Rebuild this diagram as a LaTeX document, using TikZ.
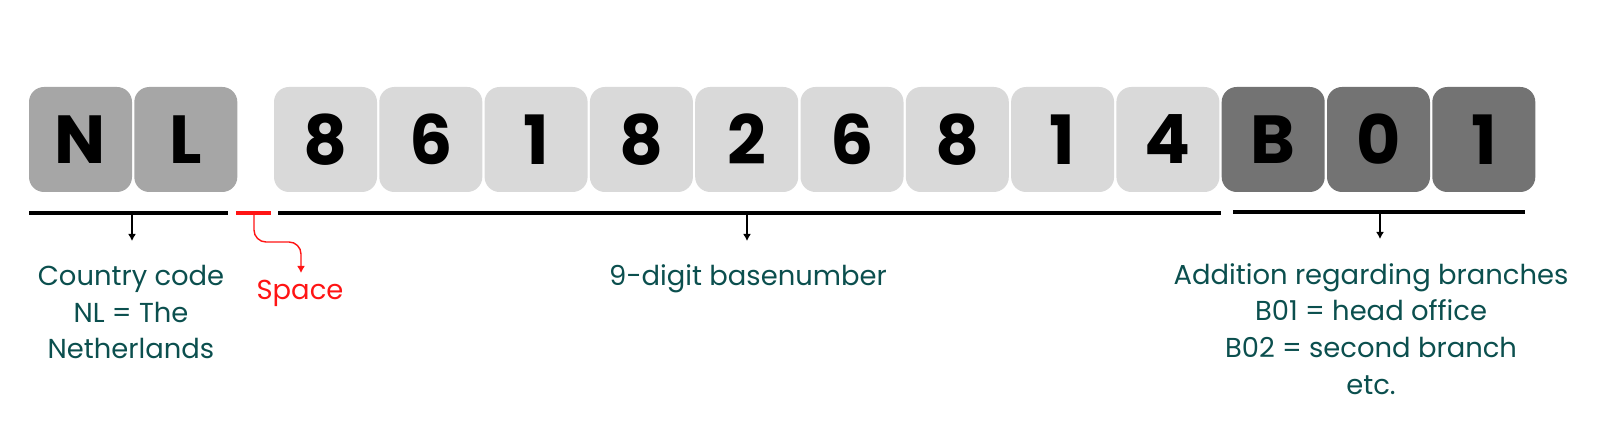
\documentclass[tikz,border=0pt]{standalone}
\usepackage{fontspec}
\setmainfont{Poppins}
\usepackage{tikz}
\usetikzlibrary{arrows.meta}
\definecolor{countrygrey}{HTML}{A6A6A6}
\definecolor{basegrey}{HTML}{D9D9D9}
\definecolor{branchgrey}{HTML}{737373}
\definecolor{labelteal}{HTML}{0B4F4E}
\definecolor{spacered}{HTML}{FF1414}
\tikzstyle{box}=[rectangle, rounded corners=7.5pt, minimum width=51.5pt, minimum height=52.5pt, inner sep=0pt, text=black, font=\fontsize{34}{34}\selectfont\bfseries]
\tikzstyle{box_country}=[box, fill=countrygrey]
\tikzstyle{box_base}=[box, fill=basegrey]
\tikzstyle{box_branch}=[box, fill=branchgrey]
\tikzstyle{bar}=[line width=1.75pt]
\tikzstyle{pointer}=[line width=0.7pt, -{Latex[length=3.5pt,width=4pt]}]
\tikzstyle{label_text}=[align=center, anchor=north, inner sep=0pt, text=labelteal, font=\fontsize{13.7}{18.3}\selectfont]

\begin{document}
\begin{tikzpicture}[x=0.5pt, y=-0.5pt]
\useasboundingbox (0,0) rectangle (1600,426);
% country code
\node[box_country] (c0) at (80.5,139.5){N};
\node[box_country] (c1) at (185.8,139.5){L};
% base number
\node[box_base] (d0) at (325.5,139.5){8};
\node[box_base] (d1) at (430.8,139.5){6};
\node[box_base] (d2) at (536.1,139.5){1};
\node[box_base] (d3) at (641.4,139.5){8};
\node[box_base] (d4) at (746.7,139.5){2};
\node[box_base] (d5) at (852,139.5){6};
\node[box_base] (d6) at (957.3,139.5){8};
\node[box_base] (d7) at (1062.6,139.5){1};
\node[box_base] (d8) at (1167.9,139.5){4};
% branch
\node[box_branch] (b0) at (1273.2,139.5){B};
\node[box_branch] (b1) at (1378.5,139.5){0};
\node[box_branch] (b2) at (1483.8,139.5){1};
% bars
\coordinate (bar0a) at (29,213);
\coordinate (bar0b) at (228,213);
\coordinate (bar1a) at (236,213);
\coordinate (bar1b) at (271,213);
\coordinate (bar2a) at (278,213);
\coordinate (bar2b) at (1221,213);
\coordinate (bar3a) at (1233,212);
\coordinate (bar3b) at (1525,212);
\draw[bar](bar0a) -- (bar0b);
\draw[bar, spacered](bar1a) -- (bar1b);
\draw[bar](bar2a) -- (bar2b);
\draw[bar](bar3a) -- (bar3b);
% labels
\node[label_text] (country) at (131,265){Country code\\NL = The\\Netherlands};
\node[label_text, text=spacered] (space) at (300,280){Space};
\node[label_text] (base) at (748,264){9-digit basenumber};
\node[label_text] (branch) at (1371,263){Addition regarding branches\\B01 = head office\\B02 = second branch\\etc.};
% pointers
\coordinate (p0a) at (132,213);
\coordinate (p0b) at (132,241);
\coordinate (p1a) at (254,213);
\coordinate (p1m) at (278,242);
\coordinate (p1b) at (301,273);
\coordinate (p2a) at (747,213);
\coordinate (p2b) at (747,241);
\coordinate (p3a) at (1380,212);
\coordinate (p3b) at (1380,239);
\draw[pointer](p0a) -- (p0b);
\draw[pointer, spacered, rounded corners=6pt](p1a) |- (p1m) -| (p1b);
\draw[pointer](p2a) -- (p2b);
\draw[pointer](p3a) -- (p3b);
\end{tikzpicture}
\end{document}
